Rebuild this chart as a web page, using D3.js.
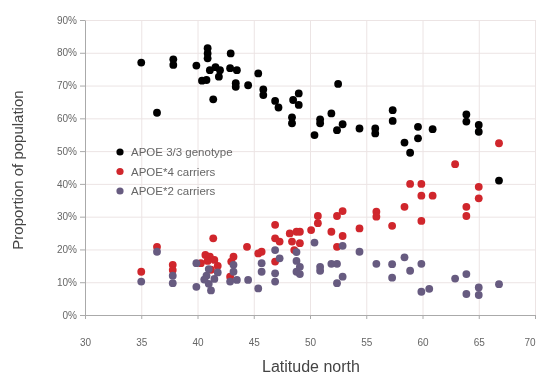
<!DOCTYPE html>
<html>
<head>
<meta charset="utf-8">
<script src="https://cdn.jsdelivr.net/npm/d3@7"></script>
<style>
  body { margin: 0; background: #fff; }
  svg { font-family: "Liberation Sans", Arial, sans-serif; filter: blur(0.4px); }
  .grid line { stroke: #ece4e4; }
  .grid path { display: none; }
  .axis path, .axis line { stroke: #aaa; }
  .axis text { fill: #666; font-size: 10px; }
</style>
</head>
<body>
<div id="chart"></div>
<script>
// [latitude, percent]
const apoe33 = [
  [35.0, 77.0], [36.4, 61.7], [37.85, 78.0], [37.85, 76.3], [39.9, 76.1],
  [40.9, 81.4], [40.9, 79.8], [40.9, 78.3], [41.1, 74.7], [41.6, 75.6],
  [42.0, 74.7], [40.4, 71.5], [40.8, 71.7], [41.9, 72.7], [41.4, 65.8],
  [42.95, 79.8], [42.9, 75.3], [43.5, 74.7], [43.4, 70.7], [43.4, 69.6],
  [44.5, 70.1], [45.4, 73.7], [45.85, 68.8], [45.85, 67.1], [46.9, 65.3],
  [47.2, 63.3], [48.5, 65.6], [49.0, 67.6], [49.0, 64.1], [48.4, 60.3],
  [48.4, 58.5], [52.5, 70.5], [51.9, 61.5], [50.9, 59.7], [50.9, 58.5],
  [50.4, 54.9], [52.4, 56.4], [52.9, 58.2], [54.4, 56.9], [55.8, 56.9],
  [55.8, 55.4], [57.35, 62.5], [57.35, 59.2], [58.4, 52.6], [58.9, 49.5],
  [59.6, 57.4], [59.6, 53.9], [60.9, 56.7], [63.9, 61.2], [63.9, 59.0],
  [65.0, 58.0], [65.0, 55.9], [66.8, 41.0]
];
const apoe4 = [
  [35.0, 13.2], [36.4, 20.8], [37.8, 15.3], [37.8, 13.7],
  [40.7, 18.3], [41.1, 17.8], [41.4, 23.4], [40.3, 15.8], [41.5, 16.8],
  [41.8, 15.0], [41.2, 13.8], [40.9, 16.5],
  [43.2, 17.8], [43.0, 16.3], [42.9, 11.7],
  [44.4, 20.8], [45.4, 18.8], [45.7, 19.3],
  [46.9, 27.5], [46.9, 23.4], [47.3, 22.4], [46.9, 16.3],
  [48.2, 24.9], [48.8, 25.4], [48.4, 22.4], [48.6, 19.8],
  [49.1, 25.4], [49.1, 21.9],
  [50.1, 25.9], [50.7, 28.0], [50.7, 30.2],
  [51.9, 25.4], [52.4, 30.2], [52.9, 31.7], [52.9, 24.1], [52.4, 20.8],
  [54.4, 26.4], [55.9, 31.5], [55.9, 30.0], [57.3, 27.2], [58.4, 33.0],
  [58.9, 40.0], [59.9, 40.0], [59.9, 36.4], [60.9, 36.4], [59.9, 28.7],
  [62.9, 46.0], [63.9, 33.0], [63.9, 30.2], [65.0, 39.1], [65.0, 35.6],
  [66.8, 52.4]
];
const apoe2 = [
  [35.0, 10.2], [36.4, 19.3], [37.8, 12.0], [37.8, 9.7],
  [39.9, 15.8], [39.9, 8.6], [40.8, 12.0], [41.0, 9.5], [41.2, 7.5],
  [40.6, 10.8], [41.5, 11.0], [41.8, 13.0], [41.0, 14.0],
  [43.2, 15.3], [43.2, 13.2], [42.9, 10.2], [43.5, 10.7], [44.5, 10.7],
  [45.4, 8.1], [45.7, 15.8], [45.7, 13.2],
  [46.9, 19.8], [46.9, 12.7], [46.9, 10.2], [47.3, 17.3],
  [48.8, 19.2], [48.8, 16.5], [48.8, 13.2],
  [49.1, 14.7], [49.1, 12.5], [50.4, 22.1], [50.9, 14.7], [50.9, 13.5],
  [51.9, 15.6], [52.4, 15.6], [52.9, 21.1], [52.9, 11.7], [52.4, 9.7],
  [54.4, 19.3], [55.9, 15.6], [57.3, 15.5], [57.3, 11.4], [58.4, 17.6],
  [58.9, 13.5], [59.9, 15.6], [59.9, 7.1], [60.6, 8.0], [62.9, 11.1],
  [63.9, 12.5], [63.9, 6.4], [65.0, 8.4], [65.0, 6.1], [66.8, 9.4]
];
const seriesNames = ['APOE 3/3 genotype', 'APOE*4 carriers', 'APOE*2 carriers'];
const xTicks = [30, 35, 40, 45, 50, 55, 60, 65, 70];
const yTicks = [0, 10, 20, 30, 40, 50, 60, 70, 80, 90];

const svgWidth = 537, svgHeight = 375;
const margin = {top: 20, right: 2, bottom: 60, left: 85};
const width = svgWidth - margin.left - margin.right;
const height = svgHeight - margin.top - margin.bottom;
const colors = ['#000000', '#d0262c', '#675b80'];

const svg = d3.select('#chart').append('svg')
  .attr('width', svgWidth)
  .attr('height', svgHeight);
const g = svg.append('g').attr('transform', `translate(${margin.left},${margin.top})`);

const x = d3.scaleLinear().domain([30, 70]).range([0, width]);
const y = d3.scaleLinear().domain([0, 90]).range([height, 0]);

// grid
g.append('g').attr('class', 'grid')
  .call(d3.axisLeft(y).tickValues(yTicks).tickSize(-width).tickFormat(''));
g.append('g').attr('class', 'grid')
  .call(d3.axisBottom(x).tickValues(xTicks).tickSize(height).tickSizeOuter(0).tickFormat(''));

// axes
const xAxis = g.append('g').attr('class', 'axis')
  .attr('transform', `translate(0,${height})`)
  .call(d3.axisBottom(x).tickValues(xTicks).tickSize(4).tickSizeOuter(0).tickPadding(20));
// last label sits on the window edge, keep it inside
xAxis.selectAll('.tick text').filter(d => d === 70).attr('text-anchor', 'end');
const yAxis = g.append('g').attr('class', 'axis')
  .call(d3.axisLeft(y).tickValues(yTicks).tickSize(5).tickSizeOuter(0).tickFormat(d => d + '%'));
yAxis.select('.domain').attr('stroke', '#999');

// points
[apoe33, apoe4, apoe2].forEach((data, i) => {
  g.append('g').selectAll('circle')
    .data(data)
    .enter().append('circle')
    .attr('cx', d => x(d[0]))
    .attr('cy', d => y(d[1]))
    .attr('r', 3.9)
    .attr('fill', colors[i]);
});

// legend
const legend = svg.append('g').attr('transform', 'translate(120,152)');
seriesNames.forEach((name, i) => {
  const row = legend.append('g').attr('transform', `translate(0,${i * 19.5})`);
  row.append('circle').attr('r', 3.6).attr('fill', colors[i]);
  row.append('text').attr('x', 11).attr('dy', '0.35em')
    .attr('font-size', 11.5).attr('fill', '#666').text(name);
});

// titles
svg.append('text')
  .attr('x', 311).attr('y', 372)
  .attr('text-anchor', 'middle').attr('font-size', 16).attr('fill', '#444')
  .text('Latitude north');
svg.append('text')
  .attr('transform', 'translate(23,170) rotate(-90)')
  .attr('text-anchor', 'middle').attr('font-size', 15).attr('fill', '#444')
  .text('Proportion of population');
</script>
</body>
</html>
